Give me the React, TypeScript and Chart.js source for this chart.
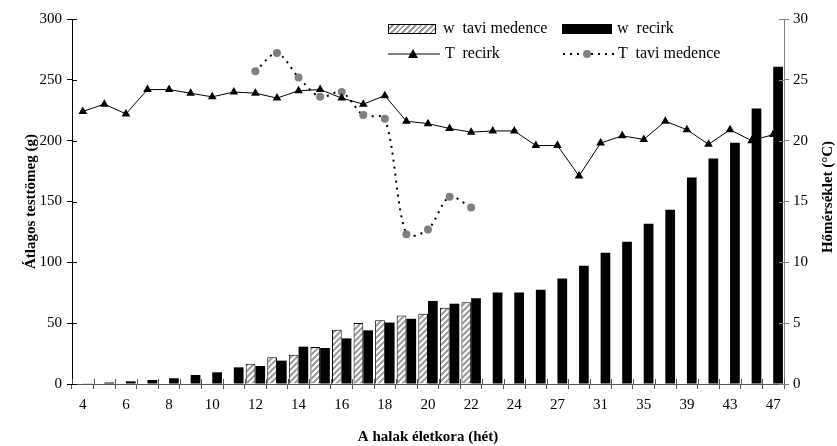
import React, { useEffect, useRef } from "react";
import { Chart, registerables } from "chart.js";

Chart.register(...registerables);

const weeks = [
  "4", "5", "6", "7", "8", "9", "10", "11", "12", "13", "14", "15", "16", "17", "18", "19", "20",
  "21", "22", "23", "24", "25", "27", "29", "31", "33", "35", "37", "39", "41", "43", "45", "47",
];

const wTavi = [
  null, null, null, null, null, null, null, null,
  16.7, 21.9, 24.1, 30.4, 44.6, 50.1, 52.3, 56.3, 57.7, 62.6, 67.1,
  null, null, null, null, null, null, null, null, null, null, null, null, null, null,
];

const wRecirk = [
  0.3, 1.2, 2.2, 3.3, 4.7, 7.4, 9.6, 13.7, 14.8, 19.2, 30.7, 29.6, 37.5, 44.1, 50.5, 53.6, 68.3,
  66.0, 70.4, 75.3, 75.3, 77.5, 86.8, 97.2, 107.9, 116.9, 131.7, 143.2, 169.8, 185.4, 198.3, 226.5, 260.7,
];

const tRecirk = [
  22.4, 23.0, 22.2, 24.2, 24.2, 23.9, 23.6, 24.0, 23.9, 23.5, 24.1, 24.2, 23.5, 23.0, 23.7, 21.6, 21.4,
  21.0, 20.7, 20.8, 20.8, 19.6, 19.6, 17.1, 19.8, 20.4, 20.1, 21.6, 20.9, 19.7, 20.9, 20.0, 20.5,
];

const tTavi = [
  null, null, null, null, null, null, null, null,
  25.7, 27.2, 25.2, 23.6, 24.0, 22.1, 21.8, 12.3, 12.7, 15.4, 14.5,
  null, null, null, null, null, null, null, null, null, null, null, null, null, null,
];

const leftTicks = [0, 50, 100, 150, 200, 250, 300];
const rightTicks = [0, 5, 10, 15, 20, 25, 30];

const FONT = "'Liberation Serif', 'Times New Roman', serif";

function makePattern(): CanvasPattern | string {
  const c = document.createElement("canvas");
  c.width = 6;
  c.height = 6;
  const g = c.getContext("2d");
  if (!g) return "#ccc";
  g.fillStyle = "#ffffff";
  g.fillRect(0, 0, 6, 6);
  g.strokeStyle = "#9a9a9a";
  g.lineWidth = 2;
  g.beginPath();
  g.moveTo(0, 6);
  g.lineTo(6, 0);
  g.moveTo(-3, 3);
  g.lineTo(3, -3);
  g.moveTo(3, 9);
  g.lineTo(9, 3);
  g.stroke();
  return g.createPattern(c, "repeat") || "#ccc";
}

const extrasPlugin = {
  id: "extras",
  afterDraw(chart: any) {
    const ctx = chart.ctx;
    const { y, y2, x } = chart.scales;
    const area = chart.chartArea;
    ctx.save();
    ctx.lineWidth = 1;
    // inner halves of the crossing tick marks
    ctx.strokeStyle = "#000";
    ctx.beginPath();
    leftTicks.forEach((v) => {
      const py = Math.round(y.getPixelForValue(v)) + 0.5;
      ctx.moveTo(area.left, py);
      ctx.lineTo(area.left + 5, py);
    });
    ctx.stroke();
    ctx.strokeStyle = "#808080";
    ctx.beginPath();
    rightTicks.forEach((v) => {
      const py = Math.round(y2.getPixelForValue(v)) + 0.5;
      ctx.moveTo(area.right, py);
      ctx.lineTo(area.right - 5, py);
    });
    ctx.stroke();
    ctx.strokeStyle = "#555";
    ctx.beginPath();
    const n = weeks.length;
    for (let i = 0; i <= n; i++) {
      const px = Math.round(x.left + (i * (x.right - x.left)) / n) + 0.5;
      ctx.moveTo(px, area.bottom);
      ctx.lineTo(px, area.bottom - 5);
    }
    ctx.stroke();
    // right axis title, reading bottom-to-top
    ctx.translate(828, 197);
    ctx.rotate(-Math.PI / 2);
    ctx.font = `bold 15px ${FONT}`;
    ctx.fillStyle = "#000";
    ctx.textAlign = "center";
    ctx.textBaseline = "middle";
    ctx.fillText("Hőmérséklet (°C)", 0, 0);
    ctx.restore();
  },
};

export default function App() {
  const ref = useRef<HTMLCanvasElement | null>(null);

  useEffect(() => {
    if (!ref.current) return;
    const pattern = makePattern();
    const chart = new Chart(ref.current, {
      type: "bar",
      data: {
        labels: weeks,
        datasets: [
          {
            type: "bar",
            label: "w  tavi medence",
            data: wTavi as any,
            backgroundColor: pattern as any,
            borderColor: "#000",
            borderWidth: 1,
            yAxisID: "y",
            order: 1,
            categoryPercentage: 0.9,
            barPercentage: 1.0,
          },
          {
            type: "bar",
            label: "w  recirk",
            data: wRecirk,
            backgroundColor: "#000",
            borderWidth: 0,
            yAxisID: "y",
            order: 1,
            categoryPercentage: 0.9,
            barPercentage: 1.0,
          },
          {
            type: "line",
            label: "T  recirk",
            data: tRecirk,
            borderColor: "#000",
            borderWidth: 1,
            backgroundColor: "#000",
            pointStyle: "triangle",
            pointRadius: 5,
            pointBorderWidth: 0,
            pointBackgroundColor: "#000",
            tension: 0,
            yAxisID: "y2",
            order: 0,
          },
          {
            type: "line",
            label: "T  tavi medence",
            data: tTavi as any,
            borderColor: "#000",
            borderWidth: 2,
            borderDash: [2, 5],
            pointStyle: "circle",
            pointRadius: 4,
            pointBorderWidth: 0,
            pointBackgroundColor: "#808080",
            tension: 0.3,
            yAxisID: "y2",
            order: 0,
          },
        ] as any,
      },
      options: {
        animation: false,
        responsive: true,
        maintainAspectRatio: false,
        layout: { padding: { top: 19, left: 0, right: 0, bottom: 0 } },
        plugins: {
          legend: { display: false },
          tooltip: { enabled: false },
        },
        scales: {
          x: {
            type: "category",
            offset: true,
            grid: {
              display: true,
              drawOnChartArea: false,
              offset: true,
              tickLength: 5,
              color: "#555",
            },
            border: { color: "#555", width: 1 },
            ticks: {
              autoSkip: false,
              maxRotation: 0,
              minRotation: 0,
              padding: 7,
              color: "#000",
              font: { family: FONT, size: 15 },
              callback: (_v: any, i: number) => (i % 2 === 0 ? weeks[i] : ""),
            },
            title: {
              display: true,
              text: "A halak életkora (hét)",
              color: "#000",
              font: { family: FONT, size: 15, weight: "bold" },
              padding: { top: 0, bottom: 0 },
            },
            afterFit: (s: any) => {
              s.height = 62;
            },
          },
          y: {
            position: "left",
            min: 0,
            max: 300,
            afterBuildTicks: (s: any) => {
              s.ticks = leftTicks.map((v) => ({ value: v }));
            },
            grid: { drawOnChartArea: false, tickLength: 5, color: "#000" },
            border: { color: "#000", width: 1 },
            ticks: {
              padding: 5,
              color: "#000",
              font: { family: FONT, size: 15 },
            },
            title: {
              display: true,
              text: "Átlagos testtömeg (g)",
              color: "#000",
              font: { family: FONT, size: 15, weight: "bold" },
              padding: { top: 22, bottom: 0 },
            },
            afterFit: (s: any) => {
              s.width = 72;
            },
          },
          y2: {
            position: "right",
            min: 0,
            max: 30,
            afterBuildTicks: (s: any) => {
              s.ticks = rightTicks.map((v) => ({ value: v }));
            },
            grid: { drawOnChartArea: false, tickLength: 5, color: "#808080" },
            border: { color: "#808080", width: 1 },
            ticks: {
              padding: 4,
              color: "#000",
              font: { family: FONT, size: 15 },
            },
            afterFit: (s: any) => {
              s.width = 53;
            },
          },
        },
      } as any,
      plugins: [extrasPlugin],
    });
    return () => chart.destroy();
  }, []);

  const legendText: React.CSSProperties = {
    position: "absolute",
    fontFamily: FONT,
    fontSize: 16,
    color: "#000",
    whiteSpace: "pre",
    lineHeight: "18px",
  };

  return (
    <div style={{ position: "fixed", left: 0, top: 0, width: 837, height: 446, background: "#fff" }}>
      <canvas ref={ref} />
      <div
        style={{
          position: "absolute",
          left: 388,
          top: 24,
          width: 46,
          height: 8,
          border: "1px solid #000",
          background: "repeating-linear-gradient(135deg, #fff 0px, #fff 2px, #9a9a9a 2px, #9a9a9a 4px)",
        }}
      />
      <div style={{ ...legendText, left: 443, top: 19 }}>w  tavi medence</div>
      <div style={{ position: "absolute", left: 562, top: 24, width: 50, height: 10, background: "#000" }} />
      <div style={{ ...legendText, left: 617, top: 19 }}>w  recirk</div>
      <svg style={{ position: "absolute", left: 386, top: 46 }} width={56} height={16}>
        <line x1={2} y1={8} x2={54} y2={8} stroke="#000" strokeWidth={1} />
        <polygon points="27,3 32,12 22,12" fill="#000" />
      </svg>
      <div style={{ ...legendText, left: 445, top: 44 }}>T  recirk</div>
      <svg style={{ position: "absolute", left: 561, top: 46 }} width={56} height={16}>
        <line x1={2} y1={8} x2={54} y2={8} stroke="#000" strokeWidth={2} strokeDasharray="2 5" />
        <circle cx={26} cy={8} r={4} fill="#808080" />
      </svg>
      <div style={{ ...legendText, left: 618, top: 44 }}>T  tavi medence</div>
    </div>
  );
}
